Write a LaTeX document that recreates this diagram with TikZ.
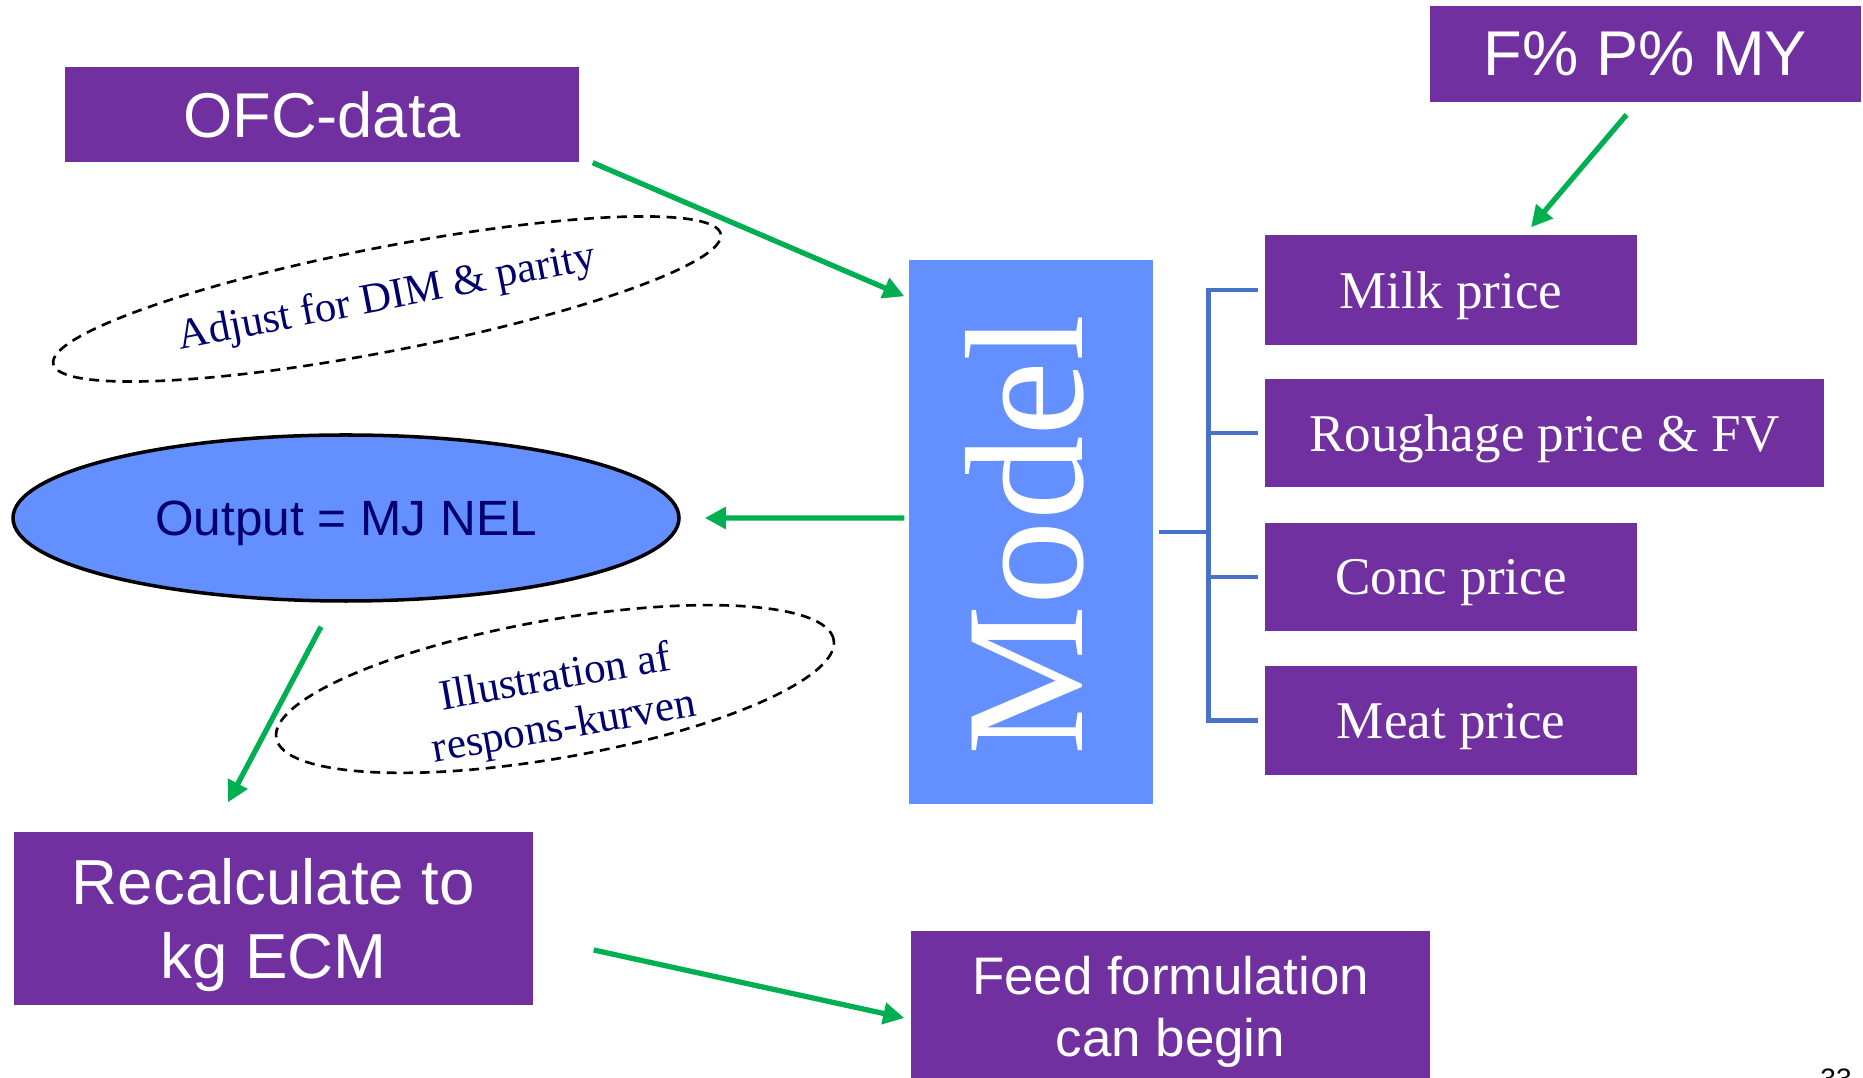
\documentclass[tikz,border=0pt]{standalone}
\usepackage{fontspec}
\setmainfont{Liberation Serif}
\setsansfont{Liberation Sans}
\usetikzlibrary{shapes.geometric,arrows.meta,calc}
\definecolor{purp}{RGB}{112,48,160}
\definecolor{modelblue}{RGB}{100,144,255}
\definecolor{brkblue}{RGB}{72,114,200}
\definecolor{grn}{RGB}{0,176,80}
\definecolor{navytxt}{RGB}{0,0,110}
\tikzset{
  pbox/.style={fill=purp,draw=none,text=white,inner sep=0pt,align=center},
  arr/.style={draw=grn,line width=1.5pt,-{Triangle[length=6pt,width=6pt]}},
  brk/.style={draw=brkblue,line width=1.3pt},
  dashell/.style={ellipse,draw=black,line width=0.75pt,dash pattern=on 2.8pt off 1.9pt,inner sep=0pt,text=navytxt,font=\fontsize{12.2pt}{13.5pt}\selectfont,align=center},
  elltxt/.style={text=navytxt,inner sep=0pt,align=center,font=\fontsize{12.3pt}{14.2pt}\selectfont}
}
\begin{document}
\begin{tikzpicture}
\useasboundingbox (0,0) rectangle (18.63,-10.78);
% boxes
\node[pbox,minimum width=5.14cm,minimum height=0.95cm,font=\sffamily\fontsize{18pt}{21pt}\selectfont] (ofc) at (3.22,-1.145) {OFC-data};
\node[pbox,minimum width=4.31cm,minimum height=0.96cm,font=\sffamily\fontsize{18pt}{21pt}\selectfont] (fpm) at (16.455,-0.54) {F\% P\% MY};
\node[pbox,text depth=0pt,minimum width=3.72cm,minimum height=1.10cm,font=\fontsize{15.1pt}{18pt}\selectfont] (milk) at (14.51,-2.90) {Milk price};
\node[pbox,text depth=0pt,minimum width=5.59cm,minimum height=1.08cm,font=\fontsize{15.1pt}{18pt}\selectfont] (rough) at (15.445,-4.33) {Roughage price \& FV};
\node[pbox,text depth=0pt,minimum width=3.72cm,minimum height=1.08cm,font=\fontsize{15.1pt}{18pt}\selectfont] (conc) at (14.51,-5.77) {Conc price};
\node[pbox,text depth=0pt,minimum width=3.72cm,minimum height=1.09cm,font=\fontsize{15.1pt}{18pt}\selectfont] (meat) at (14.51,-7.205) {Meat price};
\node[fill=modelblue,draw=none,minimum width=2.44cm,minimum height=5.44cm,inner sep=0pt] (model) at (10.31,-5.32) {};
\node[text=white,rotate=90,font=\fontsize{48pt}{50pt}\selectfont,inner sep=0pt] (modeltxt) at (10.25,-5.35) {Model};
\node[ellipse,fill=modelblue,draw=black,line width=1pt,minimum width=6.66cm,minimum height=1.66cm,inner sep=0pt,text=navytxt,text depth=0pt,font=\sffamily\fontsize{14.1pt}{17pt}\selectfont] (out) at (3.46,-5.18) {Output = MJ NEL};
\node[pbox,minimum width=5.19cm,minimum height=1.73cm,font=\sffamily\fontsize{18.1pt}{21.3pt}\selectfont] (recalc) at (2.735,-9.185) {};
\node[pbox,fill=none,font=\sffamily\fontsize{18.1pt}{21.3pt}\selectfont] (recalctxt) at (2.735,-9.25) {Recalculate to\\kg ECM};
\node[pbox,minimum width=5.19cm,minimum height=1.62cm,font=\sffamily\fontsize{15.05pt}{17.6pt}\selectfont] (feed) at (11.705,-10.12) {Feed formulation\\can begin};
% dashed ellipses
\node[dashell,minimum width=6.8cm,minimum height=1.04cm,rotate=11] (adj) at (3.87,-2.99) {Adjust for DIM \& parity};
\node[dashell,minimum width=5.66cm,minimum height=1.38cm,rotate=10] (ill) at (5.55,-6.89) {};
\node[elltxt,rotate=10] (illtxt) at (5.60,-7.04) {Illustration af\\respons-kurven};
% arrows
\draw[arr] ($(ofc.south east)+(0.13,0)$) -- ($(model.north west)+(-0.04,-0.37)$);
\draw[arr] ($(fpm.south)+(-0.19,-0.12)$) -- ($(milk.north)+(0.80,0.07)$);
\draw[arr] ($(model.west)+(-0.04,0.14)$) -- ($(out.east)+(0.24,0)$);
\draw[arr] ($(out.south)+(-0.25,-0.24)$) -- ($(recalc.north)+(-0.455,0.29)$);
\draw[arr] ($(recalc.east)+(0.6,-0.315)$) -- ($(feed.west)+(-0.06,-0.06)$);
% bracket
\draw[brk] ($(model.east)+(0.05,0)$) -- ++(0.51,0);
\draw[brk] ($(milk.west)+(-0.06,0)$) -- ++(-0.50,0) |- ($(meat.west)+(-0.06,0)$);
\draw[brk] ($(rough.west)+(-0.06,0)$) -- ++(-0.50,0);
\draw[brk] ($(conc.west)+(-0.06,0)$) -- ++(-0.50,0);
% page number
\node[anchor=base,font=\sffamily\fontsize{8pt}{9pt}\selectfont,inner sep=0pt] (pg) at (18.36,-10.88) {33};
\end{tikzpicture}
\end{document}
